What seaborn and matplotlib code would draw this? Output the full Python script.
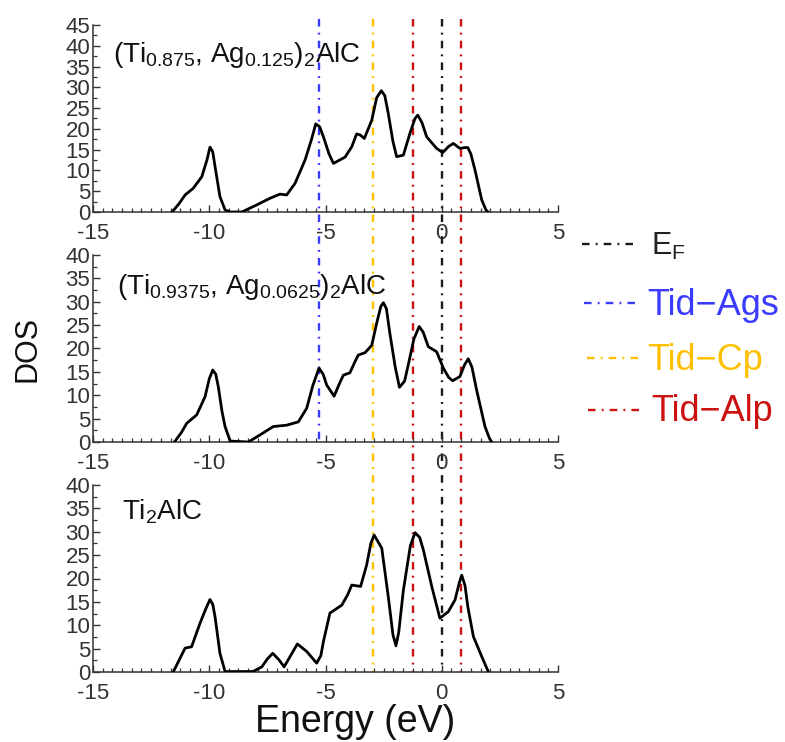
import matplotlib
matplotlib.use("Agg")
import numpy as np
import pandas as pd
import matplotlib.pyplot as plt
import matplotlib.transforms as mtrans
from matplotlib.lines import Line2D
from matplotlib.ticker import MultipleLocator, AutoMinorLocator
import seaborn as sns

# ---------------- data ----------------
energy_ag0125 = [-11.6, -11.3, -11.04, -10.69, -10.32, -10.1, -9.97, -9.85, -9.75, -9.54, -9.32, -9.1,
                 -8.6, -7.96, -7.39, -6.96, -6.67, -6.31, -5.88, -5.6, -5.42, -5.25, -5.09, -4.85,
                 -4.66, -4.16, -3.87, -3.66, -3.5, -3.33, -3.01, -2.8, -2.6, -2.45, -2.30, -2.1,
                 -1.94, -1.65, -1.37, -1.15, -1.03, -0.85, -0.65, -0.22, 0.04, 0.3, 0.50, 0.78,
                 1.0, 1.12, 1.25, 1.43, 1.72, 1.9, 2.0]
dos_ag0125 = [0, 2.0, 4.1, 5.7, 8.5, 12.5, 15.6, 14.5, 10.9, 3.7, 0.5, 0,
              0, 1.7, 3.3, 4.3, 4.1, 6.9, 12.5, 17.5, 21.2, 20.5, 18.1, 14.0,
              11.7, 13.2, 15.7, 18.8, 18.5, 17.7, 22.1, 27.5, 29.2, 28.0, 23.7, 17.0,
              13.3, 13.7, 18.9, 22.5, 23.3, 21.5, 18.1, 15.3, 14.3, 15.8, 16.5, 15.3,
              15.5, 15.5, 14.0, 10.1, 2.9, 0.5, 0]

energy_ag0625 = [-11.5, -11.2, -10.97, -10.54, -10.18, -10.0, -9.85, -9.72, -9.61, -9.45, -9.32, -9.1,
                 -8.32, -7.82, -7.25, -6.67, -6.17, -5.81, -5.55, -5.28, -5.1, -4.95, -4.63, -4.4,
                 -4.23, -3.95, -3.75, -3.59, -3.30, -3.01, -2.80, -2.62, -2.51, -2.38, -2.23, -2.0,
                 -1.82, -1.6, -1.44, -1.2, -0.97, -0.8, -0.58, -0.22, 0.07, 0.3, 0.47, 0.78,
                 0.98, 1.14, 1.3, 1.50, 1.86, 2.05, 2.15]
dos_ag0625 = [0, 2.0, 4.0, 5.8, 9.7, 13.5, 15.4, 14.5, 11.8, 6.5, 3.3, 0.2,
              0, 1.5, 3.3, 3.6, 4.3, 7.2, 12.0, 15.8, 14.5, 12.2, 9.8, 12.5,
              14.3, 14.8, 17.0, 18.6, 19.1, 20.7, 25.4, 29.0, 29.8, 28.5, 23.2, 16.0,
              11.7, 13.0, 16.5, 22.0, 24.7, 23.5, 20.4, 19.3, 15.8, 13.8, 13.1, 14.0,
              16.5, 17.8, 16.0, 11.1, 3.3, 0.8, 0]

energy_ti2alc = [-11.55, -11.3, -11.04, -10.76, -10.40, -10.15, -9.97, -9.85, -9.75, -9.54, -9.32,
                 -8.12, -7.74, -7.5, -7.27, -7.0, -6.78, -6.5, -6.21, -5.81, -5.38, -5.2, -5.09,
                 -4.81, -4.30, -4.05, -3.87, -3.49, -3.23, -3.05, -2.91, -2.58, -2.30, -2.1, -1.97,
                 -1.85, -1.65, -1.35, -1.15, -0.95, -0.79, -0.43, -0.08, 0.28, 0.57, 0.75, 0.86,
                 1.0, 1.12, 1.36, 1.72, 2.0]
dos_ti2alc = [0, 2.5, 5.1, 5.4, 10.4, 13.5, 15.5, 14.5, 11.8, 4.0, 0.1,
              0.1, 1.1, 2.8, 4.0, 2.6, 1.1, 3.5, 6.0, 4.4, 1.9, 3.5, 6.5,
              12.6, 14.3, 16.5, 18.6, 18.3, 22.9, 27.5, 29.3, 26.5, 16.1, 8.0, 5.6,
              8.5, 17.5, 27.0, 29.8, 28.8, 26.1, 18.3, 11.5, 12.9, 15.4, 19.0, 20.7,
              18.5, 14.0, 7.6, 3.3, 0.1]

panel_labels = [r"(Ti$_{0.875}$, Ag$_{0.125}$)$_2$AlC",
                r"(Ti$_{0.9375}$, Ag$_{0.0625}$)$_2$AlC",
                r"Ti$_2$AlC"]
panel_ymax = [45, 40, 40]
x_ticks = [-15, -10, -5, 0, 5]

ref_names = [r"E$_\mathregular{F}$", "Tid\u2212Ags", "Tid\u2212Cp", "Tid\u2212Alp"]
ref_energies = [[0.0], [-5.28], [-2.94], [-1.25, 0.83]]
ref_last_panel = [2, 1, 2, 2]

# ---------------- style ----------------
ref_colors = ["#1a1a1a", "#3b3bff", "#ffc000", "#cc1111"]
sns.set_style("ticks")
plt.rcParams['font.family'] = ['Liberation Sans', 'DejaVu Sans']
plt.rcParams['mathtext.fontset'] = 'custom'
plt.rcParams['mathtext.rm'] = 'Liberation Sans'
plt.rcParams['mathtext.it'] = 'Liberation Sans'
plt.rcParams['mathtext.default'] = 'regular'
plt.rcParams['axes.unicode_minus'] = False

W, H = 785, 742
fig = plt.figure(figsize=(W / 100, H / 100), dpi=100)

def fx(px):
    return px / W

def fy(py):
    return 1 - py / H

ax_left, ax_right = 93, 558
panel_pix = [(25, 212), (255, 442), (485, 672)]
axes = []
for top, bot in panel_pix:
    ax = fig.add_axes([fx(ax_left), fy(bot), fx(ax_right - ax_left), (bot - top) / H])
    axes.append(ax)

energies = [energy_ag0125, energy_ag0625, energy_ti2alc]
doses = [dos_ag0125, dos_ag0625, dos_ti2alc]
label_pos = [(113, 62), (117, 294), (122, 519)]

for i, ax in enumerate(axes):
    df = pd.DataFrame({"Energy": energies[i], "DOS": doses[i]})
    sns.lineplot(data=df, x="Energy", y="DOS", ax=ax, color="black", lw=2.0,
                 sort=False, estimator=None, zorder=5)
    ax.set_xlim(-15, 5)
    ax.set_ylim(0, panel_ymax[i])
    ax.set_xticks(x_ticks)
    ax.set_xticklabels([str(t) for t in x_ticks])
    ax.xaxis.set_minor_locator(AutoMinorLocator(12))
    ax.yaxis.set_major_locator(MultipleLocator(5))
    ax.yaxis.set_minor_locator(AutoMinorLocator(2))
    ax.tick_params(which='major', direction='in', length=5, width=1.0, color='#333333',
                   labelsize=16, labelcolor='#333333')
    ax.tick_params(which='minor', direction='in', length=3, width=0.9, color='#333333')
    ax.tick_params(axis='x', which='major', pad=8)
    ax.tick_params(axis='y', which='major', pad=2)
    for s in ['top', 'right']:
        ax.spines[s].set_visible(False)
    for s in ['left', 'bottom']:
        ax.spines[s].set_linewidth(1.1)
        ax.spines[s].set_color('#333333')
    ax.set_xlabel("")
    ax.set_ylabel("")
    ax.patch.set_alpha(0)
    lx, ly = label_pos[i]
    fig.text(fx(lx), fy(ly), panel_labels[i], fontsize=20, color='#111111',
             ha='left', va='baseline')

# reference energy lines spanning the panels
line_top = fy(19)
dash = (3.2, 2.6, 0.8, 2.6)
for name, xs, col, last in zip(ref_names, ref_energies, ref_colors, ref_last_panel):
    ybot = fy(panel_pix[last][1])
    tr = mtrans.blended_transform_factory(axes[0].transData, fig.transFigure)
    for x in xs:
        ln, = axes[0].plot([x, x], [line_top, ybot], transform=tr, color=col, lw=1.7,
                           clip_on=False, zorder=4)
        ln.set_dashes(dash)

# legend drawn at right
leg_rows = [(582, 639, 244, 651, 255, 22), (584, 640, 303, 647, 315, 26),
            (587, 640, 358, 647, 370, 26), (588, 645, 410, 651, 421, 26)]
for (x0, x1, yl, xt, yt, fs), name, col in zip(leg_rows, ref_names, ref_colors):
    l = Line2D([fx(x0), fx(x1)], [fy(yl), fy(yl)], transform=fig.transFigure,
               color=col, lw=1.7)
    l.set_dashes(dash)
    fig.add_artist(l)
    tcol = '#222222' if col == ref_colors[0] else col
    fig.text(fx(xt), fy(yt), name, fontsize=fs, color=tcol, ha='left', va='baseline')

fig.text(fx(28), fy(349), "DOS", fontsize=22, rotation=90, ha='center', va='center',
         color='#111111')
fig.text(fx(355), fy(732), "Energy (eV)", fontsize=27, ha='center', va='baseline',
         color='#111111')

fig.savefig("out.png", dpi=100)
